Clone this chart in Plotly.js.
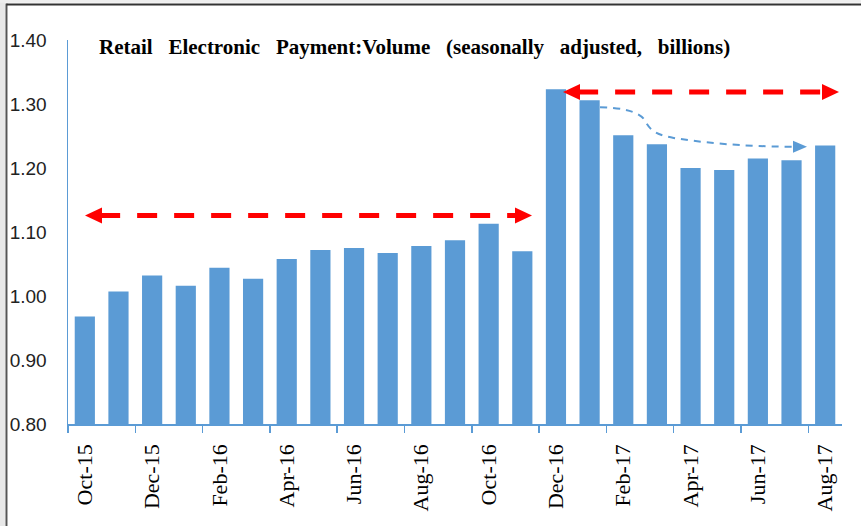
<!DOCTYPE html>
<html>
<head>
<meta charset="utf-8">
<script src="https://cdn.plot.ly/plotly-3.0.1.min.js"></script>
<style>html,body{margin:0;padding:0;background:#fff;}#chart{width:861px;height:526px;}</style>
</head>
<body>
<div id="chart"></div>
<script>
var categories = ["Oct-15","Nov-15","Dec-15","Jan-16","Feb-16","Mar-16","Apr-16","May-16","Jun-16","Jul-16","Aug-16","Sep-16","Oct-16","Nov-16","Dec-16","Jan-17","Feb-17","Mar-17","Apr-17","May-17","Jun-17","Jul-17","Aug-17"];
var volume = [0.968,1.007,1.032,1.016,1.044,1.027,1.058,1.072,1.075,1.067,1.078,1.087,1.113,1.070,1.323,1.306,1.251,1.237,1.200,1.197,1.215,1.212,1.235];
var titleWords = ["Retail", "Electronic", "Payment:Volume", "(seasonally", "adjusted,", "billions)"];
var yTickVals = [0.8,0.9,1.0,1.1,1.2,1.3,1.4];

var idx = categories.map(function(_, i){ return i; });
var tickIdx = idx.filter(function(i){ return i % 2 === 0; });
var tickLabels = tickIdx.map(function(i){ return categories[i]; });

var blue = "#5B9BD5";
var red = "#FF0000";

function redArrow(xa, xb, y) {
  return [
    {type:"line", xref:"x", yref:"y", x0:xa+0.45, x1:xb-0.45, y0:y, y1:y,
     line:{color:red, width:5, dash:"20px,17px"}},
    {type:"path", xref:"x", yref:"y", xsizemode:"pixel", ysizemode:"pixel", xanchor:xa, yanchor:y,
     path:"M 0 0 L 17 8 L 17 -8 Z", fillcolor:red, line:{width:0}},
    {type:"path", xref:"x", yref:"y", xsizemode:"pixel", ysizemode:"pixel", xanchor:xb, yanchor:y,
     path:"M 0 0 L -17 8 L -17 -8 Z", fillcolor:red, line:{width:0}}
  ];
}

var shapes = [];
shapes = shapes.concat(redArrow(0.005, 13.288, 1.1258));
shapes = shapes.concat(redArrow(14.209, 22.411, 1.3188));
shapes.push({type:"path", xref:"x", yref:"y",
  path:"M 15.31 1.2948 C 15.9 1.2945 16.45 1.289 16.62 1.276 C 16.78 1.262 16.85 1.253 17.5 1.247 C 18.3 1.240 19.5 1.2335 21.05 1.2333",
  line:{color:blue, width:2, dash:"7px,6px"}});
shapes.push({type:"path", xref:"x", yref:"y", xsizemode:"pixel", ysizemode:"pixel", xanchor:21.46, yanchor:1.2333,
  path:"M 0 0 L -14 6 L -14 -6 Z", fillcolor:blue, line:{width:0}});
// window frame
shapes.push({type:"rect", xref:"paper", yref:"paper", x0:-0.1, x1:-0.0815, y0:-0.4, y1:1.2, fillcolor:"#e8e8e8", line:{width:0}, layer:"below"});
shapes.push({type:"line", xref:"paper", yref:"paper", x0:-0.0795, x1:-0.0795, y0:-0.4, y1:1.095, line:{color:"#555555", width:2}});
shapes.push({type:"rect", xref:"paper", yref:"paper", x0:-0.1, x1:1.1, y0:1.097, y1:1.2, fillcolor:"#eeeeee", line:{width:0}, layer:"below"});
shapes.push({type:"line", xref:"paper", yref:"paper", x0:-0.0795, x1:1.1, y0:1.0925, y1:1.0925, line:{color:"#333333", width:2}});

var trace = {
  type:"bar", x:idx, y:volume, marker:{color:blue, line:{width:0}},
  hoverinfo:"skip", textposition:"none"
};

var layout = {
  width:861, height:526,
  margin:{l:68, r:19, t:40, b:102, pad:0},
  paper_bgcolor:"#ffffff", plot_bgcolor:"#ffffff",
  showlegend:false, bargap:0.4,
  xaxis:{
    range:[-0.5, 22.5], tickmode:"array", tickvals:tickIdx, ticktext:tickLabels,
    tickangle:-90, ticks:"", showgrid:false, zeroline:false,
    showline:true, linecolor:blue, linewidth:1.5,
    tickfont:{family:"Liberation Serif, Times New Roman, serif", size:22, color:"#000"},
    ticklabelstandoff:10,
    minor:{tickmode:"linear", tick0:-0.5, dtick:2, ticks:"outside", ticklen:7, tickwidth:1.5, tickcolor:blue, showgrid:false},
    fixedrange:true
  },
  yaxis:{
    range:[0.8, 1.4], tickmode:"array", tickvals:yTickVals,
    ticktext:yTickVals.map(function(v){ return v.toFixed(2); }),
    ticks:"", showgrid:false, zeroline:false, showline:true, linecolor:blue, linewidth:1.5,
    tickfont:{family:"Liberation Sans Narrow, Arial Narrow, Liberation Sans, sans-serif", size:19, color:"#222"},
    ticklabelstandoff:16,
    fixedrange:true
  },
  shapes:shapes,
  annotations:[{
    xref:"paper", yref:"paper", x:0.0375, y:0.982, xanchor:"left", yanchor:"middle",
    text:titleWords.join(" &nbsp;&nbsp;"), showarrow:false,
    font:{family:"Liberation Serif, Times New Roman, serif", size:21, color:"#000", weight:"bold"}
  }]
};

Plotly.newPlot("chart", [trace], layout, {displayModeBar:false, staticPlot:true});
</script>
</body>
</html>
